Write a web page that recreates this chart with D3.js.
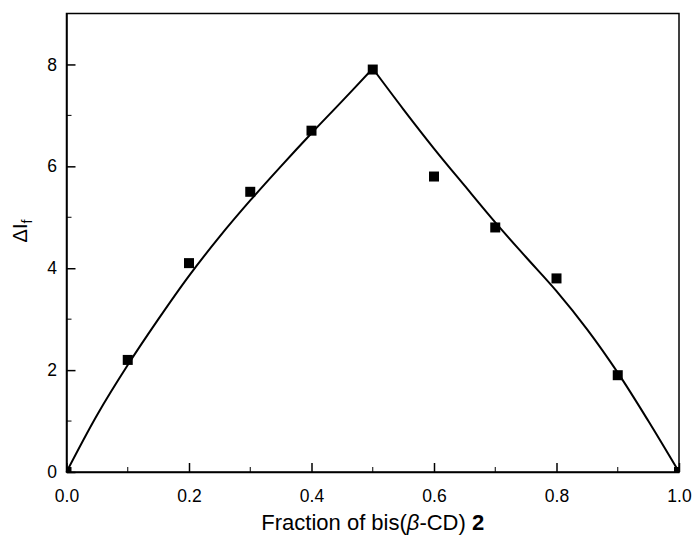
<!DOCTYPE html>
<html>
<head>
<meta charset="utf-8">
<script src="https://cdn.jsdelivr.net/npm/d3@7"></script>
<style>
  body { margin: 0; background: #fff; }
  svg { display: block; font-family: "Liberation Sans", Arial, sans-serif; }
</style>
</head>
<body>
<script>
'use strict';

// measured points
let fractions = [0, 0.1, 0.2, 0.3, 0.4, 0.5, 0.6, 0.7, 0.8, 0.9, 1.0];
let deltaIf = [0, 2.2, 4.1, 5.5, 6.7, 7.9, 5.8, 4.8, 3.8, 1.9, 0];

// fitted curve
let fitX = [0, 0.05, 0.1, 0.15, 0.2, 0.25, 0.3, 0.35, 0.4, 0.45, 0.5,
            0.55, 0.6, 0.65, 0.7, 0.75, 0.8, 0.85, 0.9, 0.95, 1.0];
let fitY = [0, 1.12, 2.1, 3.0, 3.85, 4.62, 5.33, 6.0, 6.65, 7.28, 7.92,
            7.12, 6.35, 5.62, 4.9, 4.22, 3.55, 2.8, 1.95, 1.0, 0];

let xTicks = [0, 0.2, 0.4, 0.6, 0.8, 1.0];
let xMinor = [0.1, 0.3, 0.5, 0.7, 0.9];
let yTicks = [0, 2, 4, 6, 8];
let yMinor = [1, 3, 5, 7];

let width = 692;
let height = 535;
let margin = {top: 13.5, right: 13, bottom: 63, left: 66.5};

let svg = d3.select('body').append('svg')
    .attr('width', width)
    .attr('height', height);

let x = d3.scaleLinear()
    .domain([0, 1])
    .range([margin.left, width - margin.right]);

let y = d3.scaleLinear()
    .domain([0, 9])
    .range([height - margin.bottom, margin.top]);

svg.append('clipPath').attr('id', 'plot')
  .append('rect')
    .attr('x', x(0)).attr('y', y(9))
    .attr('width', x(1) - x(0)).attr('height', y(0) - y(9));

// bottom axis, ticks pointing in
let xAxis = svg.append('g')
    .attr('transform', `translate(0,${y(0)})`)
    .call(d3.axisBottom(x).tickValues(xTicks).tickSizeInner(-9).tickSizeOuter(0)
      .tickPadding(18).tickFormat(d3.format('.1f')));
xAxis.append('g').selectAll('line')
  .data(xMinor)
  .enter().append('line')
    .attr('x1', d => x(d)).attr('x2', d => x(d))
    .attr('y1', 0).attr('y2', -5)
    .attr('stroke', '#000');

let yAxis = svg.append('g')
    .attr('transform', `translate(${x(0)},0)`)
    .call(d3.axisLeft(y).tickValues(yTicks).tickSizeInner(-9).tickSizeOuter(0)
      .tickPadding(9.5).tickFormat(d3.format('d')));
yAxis.append('g').selectAll('line')
  .data(yMinor)
  .enter().append('line')
    .attr('y1', d => y(d)).attr('y2', d => y(d))
    .attr('x1', 0).attr('x2', 5)
    .attr('stroke', '#000');

svg.selectAll('.tick text')
    .attr('font-size', 17.5)
    .attr('font-family', '"Liberation Sans", Arial, sans-serif')
    .attr('fill', '#000');
svg.selectAll('.domain, .tick line').attr('stroke', '#000').attr('stroke-width', 1.5);

// frame
svg.append('rect')
    .attr('x', x(0)).attr('y', y(9))
    .attr('width', x(1) - x(0)).attr('height', y(0) - y(9))
    .attr('fill', 'none')
    .attr('stroke', '#000')
    .attr('stroke-width', 1.5);

// fit curve, two branches meeting at the peak
let fit = fitX.map((d, i) => ({x: d, y: fitY[i]}));
let line = d3.line()
    .x(d => x(d.x))
    .y(d => y(d.y))
    .curve(d3.curveCatmullRom.alpha(0.5));

[fit.filter(d => d.x <= 0.5), fit.filter(d => d.x >= 0.5)].forEach(part => {
  svg.append('path')
      .datum(part)
      .attr('d', line)
      .attr('fill', 'none')
      .attr('stroke', '#000')
      .attr('stroke-width', 2);
});

// markers
let s = 10;
svg.append('g')
    .attr('clip-path', 'url(#plot)')
  .selectAll('rect')
  .data(fractions.map((d, i) => ({x: d, y: deltaIf[i]})))
  .enter().append('rect')
    .attr('x', d => x(d.x) - s / 2)
    .attr('y', d => y(d.y) - s / 2)
    .attr('width', s)
    .attr('height', s)
    .attr('fill', '#000');

// axis titles
let xTitle = svg.append('text')
    .attr('x', (x(0) + x(1)) / 2)
    .attr('y', 530)
    .attr('text-anchor', 'middle')
    .attr('font-size', 22);
xTitle.append('tspan').text('Fraction of bis(');
xTitle.append('tspan').attr('font-style', 'italic').text('β');
xTitle.append('tspan').text('-CD) ');
xTitle.append('tspan').attr('font-weight', 'bold').text('2');

let yTitle = svg.append('text')
    .attr('transform', 'translate(27,231) rotate(-90)')
    .attr('text-anchor', 'middle')
    .attr('font-size', 20);
yTitle.append('tspan').text('ΔI');
yTitle.append('tspan').attr('font-size', 14).attr('dy', 5).text('f');
</script>
</body>
</html>
